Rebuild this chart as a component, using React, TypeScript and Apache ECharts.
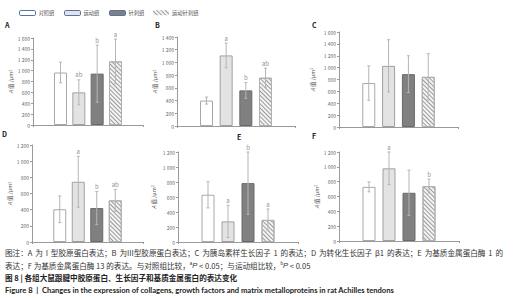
import React, { useEffect, useRef } from 'react';
import * as echarts from 'echarts';

const groups = ['对照组', '运动组', '针刺组', '运动针刺组'];
const categories = ['', '对照组', '运动组', '针刺组', '运动针刺组', ''];
const panelLetters = ['A', 'B', 'C', 'D', 'E', 'F'];
const yMax = [1600, 1400, 1600, 1200, 1200, 1200];
const yInterval = 200;

const meansA = [965, 600, 945, 1170];
const sdsA = [190, 230, 525, 410];
const sigA = ['', 'ab', 'b', 'a'];

const meansB = [400, 1110, 560, 760];
const sdsB = [55, 195, 125, 150];
const sigB = ['', 'a', 'b', 'ab'];

const meansC = [740, 1030, 890, 845];
const sdsC = [290, 440, 310, 390];
const sigC = ['', '', '', ''];

const meansD = [405, 745, 420, 515];
const sdsD = [165, 315, 205, 135];
const sigD = ['', 'a', 'b', 'ab'];

const meansE = [630, 275, 785, 295];
const sdsE = [175, 215, 415, 145];
const sigE = ['', 'a', 'b', 'a'];

const meansF = [730, 980, 650, 740];
const sdsF = [67, 220, 305, 95];
const sigF = ['', 'a', '', 'b'];

const means = [meansA, meansB, meansC, meansD, meansE, meansF];
const sds = [sdsA, sdsB, sdsC, sdsD, sdsE, sdsF];
const sigs = [sigA, sigB, sigC, sigD, sigE, sigF];

const captionLine1 =
  '图注：A 为 I 型胶原蛋白表达；B 为III型胶原蛋白表达；C 为胰岛素样生长因子 1 的表达；D 为转化生长因子 β1 的表达；E 为基质金属蛋白酶 1 的';
const captionLine2 = '表达；F 为基质金属蛋白酶 13 的表达。与对照组比较，';
const captionLine3 = '图 8 | 各组大鼠跟腱中胶原蛋白、生长因子和基质金属蛋白的表达变化';
const captionLine4 =
  'Figure 8  |  Changes in the expression of collagens, growth factors and matrix metalloproteins in rat Achilles tendons';

// layout (pixels): left, right, top(max), bottom(0)
const grids = [
  [33, 143, 38, 125],
  [177, 295, 37, 126],
  [339, 458, 32, 127],
  [32, 143, 145, 242],
  [178, 298, 152, 242],
  [339, 459, 152, 241],
];
const nameGaps = [17, 13.5, 23, 17, 21, 19];
const letterPos = [
  [5, 21], [155, 21], [312, 21], [2, 130], [237, 133], [312, 132],
];
const legendLeft = [19, 64, 109, 153];

const FONT = '"Noto Sans CJK SC", "Noto Sans", sans-serif';

const hatch = {
  symbol: 'rect',
  symbolSize: 1,
  color: '#9a9a9a',
  dashArrayX: [1, 0],
  dashArrayY: [1, 2],
  rotation: Math.PI / 4,
};

const barStyles: any[] = [
  { color: '#ffffff', borderColor: '#a8a8a8', borderWidth: 1 },
  { color: '#e3e3e3', borderColor: '#a0a0a0', borderWidth: 1 },
  { color: '#808080', borderColor: '#6a6a6a', borderWidth: 1 },
  { color: '#f4f4f4', borderColor: '#b0b0b0', borderWidth: 1, decal: hatch },
];

const fmt = (v: number) =>
  v >= 1000 ? `${Math.floor(v / 1000)} ${String(v % 1000).padStart(3, '0')}` : String(v);

function measure(text: string, font: string): number {
  const c = document.createElement('canvas').getContext('2d');
  if (!c) return text.length * 6;
  c.font = font;
  return c.measureText(text).width;
}

export default function App() {
  const ref = useRef<HTMLDivElement>(null);
  useEffect(() => {
    if (!ref.current) return;
    const chart = echarts.init(ref.current, undefined, { renderer: 'svg' });

    const grid: any[] = [];
    const xAxis: any[] = [];
    const yAxis: any[] = [];
    const series: any[] = [];

    grids.forEach(([l, r, t, b], i) => {
      grid.push({ left: l, top: t, width: r - l, height: b - t });
      xAxis.push({
        type: 'category',
        gridIndex: i,
        data: categories,
        axisLine: { lineStyle: { color: '#9a9a9a', width: 1 } },
        axisTick: {
          show: true,
          length: 2,
          interval: (idx: number) => idx === 3,
          lineStyle: { color: '#9a9a9a' },
        },
        axisLabel: { show: false },
      });
      yAxis.push({
        type: 'value',
        gridIndex: i,
        min: 0,
        max: yMax[i],
        interval: yInterval,
        splitLine: { show: false },
        axisLine: { show: true, lineStyle: { color: '#9a9a9a', width: 1 } },
        axisTick: { show: true, length: 2, lineStyle: { color: '#9a9a9a' } },
        axisLabel: {
          formatter: fmt,
          fontSize: 5,
          color: '#666',
          margin: 3,
          fontFamily: FONT,
        },
        name: '{i|A} 值 /μm{s|2}',
        nameLocation: 'middle',
        nameRotate: 90,
        nameGap: nameGaps[i],
        nameTextStyle: {
          fontSize: 5.5,
          color: '#555',
          fontFamily: FONT,
          rich: {
            i: { fontSize: 5.5, fontStyle: 'italic', color: '#555' },
            s: { fontSize: 4, verticalAlign: 'top', color: '#555', padding: [0, 0, 3, 0] },
          },
        },
      });
      groups.forEach((g, gi) => {
        series.push({
          type: 'bar',
          name: g,
          xAxisIndex: i,
          yAxisIndex: i,
          barWidth: 13,
          barGap: '-100%',
          itemStyle: barStyles[gi],
          data: categories.map((_, k) => (k === gi + 1 ? means[i][gi] : '-')),
        });
      });
      series.push({
        type: 'custom',
        name: 'err' + i,
        xAxisIndex: i,
        yAxisIndex: i,
        z: 5,
        clip: false,
        itemStyle: { color: '#b5b5b5' },
        encode: { x: 0, y: [1, 2] },
        data: means[i].map((m, gi) => [gi + 1, m - sds[i][gi], m + sds[i][gi]]),
        renderItem: (params: any, api: any) => {
          const x = api.value(0);
          const lo = api.coord([x, Math.max(0, api.value(1))]);
          const hi = api.coord([x, api.value(2)]);
          const ls = { stroke: '#b5b5b5', lineWidth: 1, fill: null };
          return {
            type: 'group',
            children: [
              { type: 'line', shape: { x1: hi[0], y1: hi[1], x2: lo[0], y2: lo[1] }, style: ls },
              { type: 'line', shape: { x1: hi[0] - 1.5, y1: hi[1], x2: hi[0] + 1.5, y2: hi[1] }, style: ls },
              { type: 'line', shape: { x1: lo[0] - 1.5, y1: lo[1], x2: lo[0] + 1.5, y2: lo[1] }, style: ls },
            ],
          };
        },
      });
      series.push({
        type: 'scatter',
        name: 'sig' + i,
        xAxisIndex: i,
        yAxisIndex: i,
        z: 6,
        symbolSize: 0,
        silent: true,
        itemStyle: { color: 'rgba(0,0,0,0)' },
        label: {
          show: true,
          position: 'top',
          distance: 2,
          formatter: (p: any) => p.value[2],
          fontSize: 6,
          color: '#6f6f6f',
          fontFamily: FONT,
        },
        data: means[i]
          .map((m, gi) => [gi + 1, m + sds[i][gi], sigs[i][gi]])
          .filter((d) => d[2] !== ''),
      });
    });

    const graphic: any[] = [];
    letterPos.forEach(([x, y], i) => {
      graphic.push({
        type: 'text',
        left: x,
        top: y,
        style: { text: panelLetters[i], fontSize: 7, fontWeight: 'bold', fill: '#222', fontFamily: FONT },
      });
    });

    // caption line 1 is justified in the reference: spread the words over the full width
    const capSize = 7.6;
    const capFont = `${capSize}px "Noto Sans CJK SC"`;
    const words = captionLine1.split(' ');
    const widths = words.map((w) => measure(w, capFont));
    const total = widths.reduce((a, b) => a + b, 0);
    const gap = (498 - total) / (words.length - 1);
    let cx = 5;
    words.forEach((w, k) => {
      graphic.push({
        type: 'text', x: cx, y: 249,
        style: { text: w, fontSize: capSize, fill: '#333', fontFamily: FONT },
      });
      cx += widths[k] + gap;
    });

    graphic.push({
      type: 'text', x: 5, y: 261,
      style: {
        text: captionLine2 + '{sup|a}{it|P} < 0.05；与运动组比较，{sup|b}{it|P} < 0.05',
        fontSize: capSize, fill: '#333', fontFamily: FONT,
        rich: {
          sup: { fontSize: 4.5, verticalAlign: 'top', fill: '#333', padding: [0, 0, 3, 0] },
          it: { fontSize: capSize, fontStyle: 'italic', fill: '#333' },
        },
      },
    });
    graphic.push({
      type: 'text', x: 5, y: 274,
      style: { text: captionLine3, fontSize: 7.6, fontWeight: 'bold', fill: '#222', fontFamily: FONT },
    });
    graphic.push({
      type: 'text', x: 5, y: 286,
      style: { text: captionLine4, fontSize: 7.6, fontWeight: 'bold', fill: '#222', fontFamily: 'Lato, "Open Sans", sans-serif' },
    });

    const legend = groups.map((g, gi) => ({
      left: legendLeft[gi],
      top: 10,
      itemWidth: 16,
      itemHeight: 5,
      padding: 0,
      textStyle: { fontSize: 5.3, color: '#555', fontFamily: FONT, padding: [0, 0, 0, -2] },
      data: [
        {
          name: g,
          itemStyle: gi < 3 ? { borderColor: '#5573a6', borderWidth: 1 } : { borderWidth: 0 },
        },
      ],
    }));

    chart.setOption({
      animation: false,
      backgroundColor: '#ffffff',
      textStyle: { fontFamily: FONT },
      legend,
      grid,
      xAxis,
      yAxis,
      series,
      graphic,
    });
    return () => chart.dispose();
  }, []);
  return (
    <div
      ref={ref}
      style={{ position: 'absolute', left: 0, top: 0, width: 515, height: 300, background: '#fff' }}
    />
  );
}
